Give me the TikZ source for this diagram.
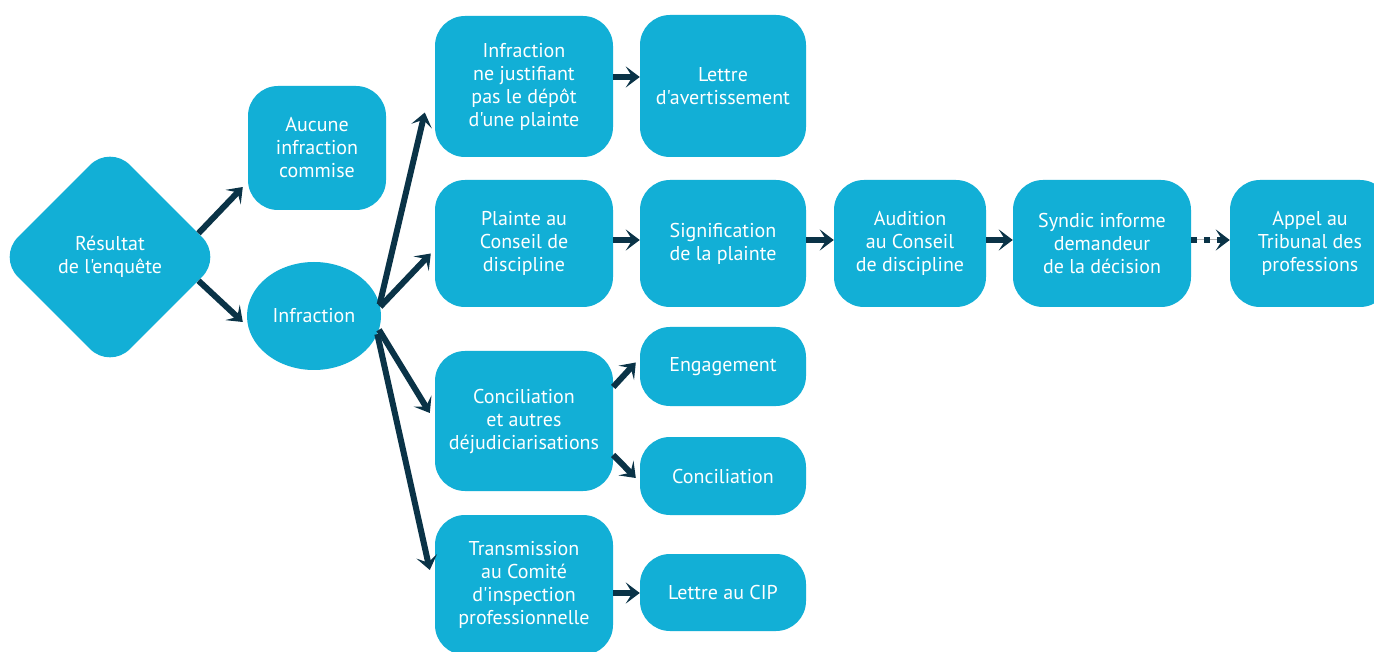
\documentclass[tikz,border=0pt]{standalone}
\usepackage{fontspec}
\setmainfont{PT Sans}[Ligatures=TeXOff]
\usetikzlibrary{arrows.meta,shapes.geometric,calc}
\definecolor{boxblue}{HTML}{12AFD6}
\definecolor{arrowdark}{HTML}{0A3347}
\begin{document}
\begin{tikzpicture}[x=1pt,y=-1pt,
  txt/.style={text=white, align=center, font=\fontsize{20}{23}\selectfont, inner sep=0pt},
  box/.style={txt, shape=rectangle, rounded corners=30pt, fill=boxblue},
  conn/.style={draw=arrowdark, line width=6pt, -{Stealth[length=14pt,width=21pt,inset=6.5pt]}},
]
\useasboundingbox[fill=white] (0,0) rectangle (1374,652);
\clip (0,0) rectangle (1374,652);

% nodes
\node[txt, shape=diamond, fill=boxblue, rounded corners=28pt, minimum width=224pt, minimum height=224pt] (res) at (110,257) {Résultat\\de l'enquête};
\node[box, minimum width=138pt, minimum height=124pt] (auc) at (317,148) {Aucune\\infraction\\commise};
\node[txt, shape=ellipse, fill=boxblue, minimum width=134pt, minimum height=108pt] (inf) at (314,316) {Infraction};

\node[box, minimum width=178pt, minimum height=141pt] (ijust) at (524,86.5) {Infraction\\ne justifiant\\pas le dépôt\\d'une plainte};
\node[box, minimum width=166pt, minimum height=142pt] (lettre) at (723,86) {Lettre\\d'avertissement};

\node[box, minimum width=178pt, minimum height=127pt] (plainte) at (524,243.5) {Plainte au\\Conseil de\\discipline};
\node[box, minimum width=166pt, minimum height=127pt] (sig) at (723,243.5) {Signification\\de la plainte};
\node[box, minimum width=152pt, minimum height=127pt] (aud) at (910,243.5) {Audition\\au Conseil\\de discipline};
\node[box, minimum width=178pt, minimum height=127pt] (syn) at (1102,243.5) {Syndic informe\\demandeur\\de la décision};
\node[box, minimum width=160pt, minimum height=127pt] (appel) at (1310,243.5) {Appel au\\Tribunal des\\professions};

\node[box, minimum width=178pt, minimum height=140pt] (conc) at (524,421) {Conciliation\\et autres\\déjudiciarisations};
\node[box, minimum width=166pt, minimum height=79pt] (eng) at (723,366.5) {Engagement};
\node[box, minimum width=166pt, minimum height=78pt] (concl) at (723,476) {Conciliation};

\node[box, minimum width=178pt, minimum height=140pt] (trans) at (524,585) {Transmission\\au Comité\\d'inspection\\professionnelle};
\node[box, minimum width=166pt, minimum height=77pt] (cip) at (723,592.5) {Lettre au CIP};

% connectors
\draw[conn] (res.15) -- ($(auc.west)+(-5,39)$);
\draw[conn] (res.-15) -- ($(inf.west)+(-4,6)$);

\draw[conn] (inf.10) -- ($(ijust.west)+(-10,26)$);
\draw[conn] (inf.8) -- ($(plainte.west)+(-4,10)$);
\draw[conn] (inf.-12) -- ($(conc.west)+(-5,-8)$);
\draw[conn] (inf.-16) -- ($(trans.west)+(-5,-15)$);

\draw[conn] ($(ijust.east)+(0,-9.5)$) -- ($(lettre.west)+(0,-9)$);
\draw[conn] ($(plainte.east)+(0,-3.5)$) -- ($(sig.west)+(0,-3.5)$);
\draw[conn] ($(sig.east)+(0,-3.5)$) -- ($(aud.west)+(0,-3.5)$);
\draw[conn] ($(aud.east)+(0,-3.5)$) -- ($(syn.west)+(0,-3.5)$);

\draw[draw=gray!60, line width=1pt] ($(syn.east)+(0,-3.5)$) -- ($(appel.west)+(-4,-3.5)$);
\draw[conn, dash pattern=on 6pt off 7pt] ($(syn.east)+(0,-3.5)$) -- ($(appel.west)+(0,-3.5)$);

\draw[conn] ($(conc.east)+(0,-34)$) -- ($(eng.west)+(-4,-4)$);
\draw[conn] ($(conc.east)+(0,34)$) -- ($(concl.west)+(-4,2)$);
\draw[conn] ($(trans.east)+(0,8)$) -- ($(cip.west)+(0,0.5)$);
\end{tikzpicture}
\end{document}
